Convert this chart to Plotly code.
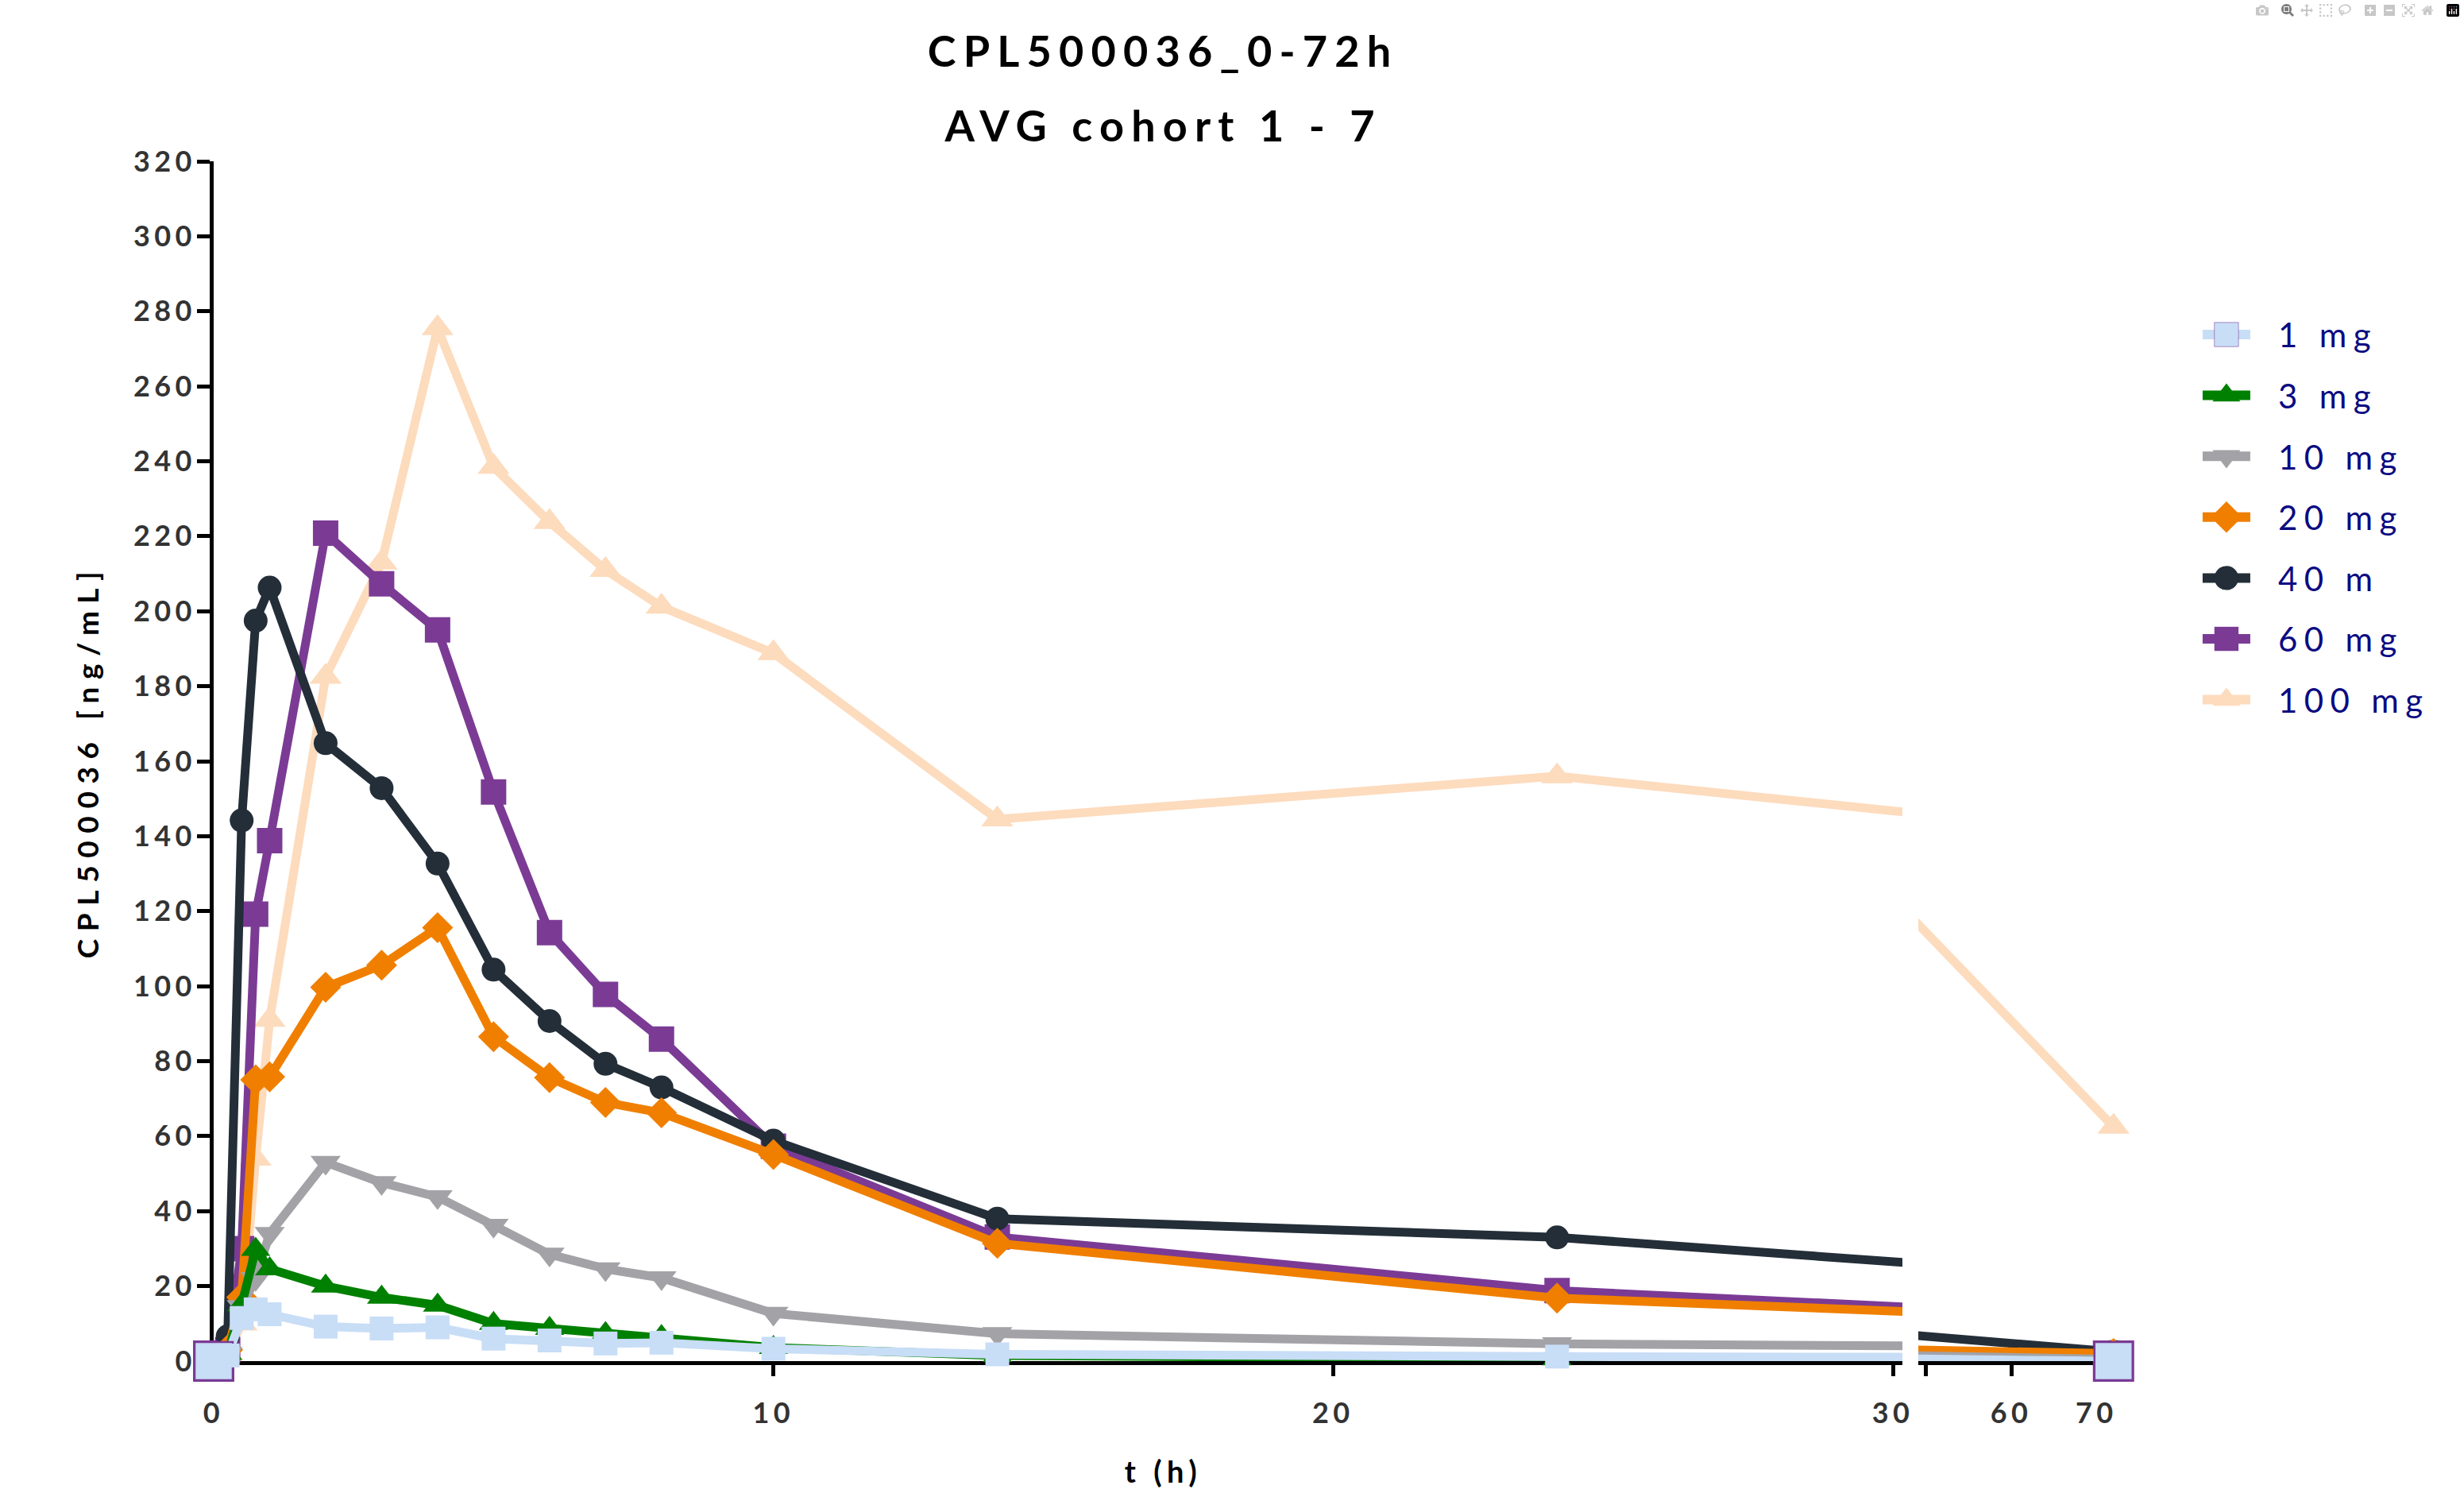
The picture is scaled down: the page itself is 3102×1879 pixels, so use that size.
import plotly.graph_objects as go

# ---------------- data ----------------
times = [0, 0.25, 0.5, 0.75, 1, 2, 3, 4, 5, 6, 7, 8, 10, 14, 24, 48, 72]

conc_1mg = [0, 1.5, 11.5, 13.8, 12.5, 9.2, 8.7, 9.0, 6.0, 5.5, 4.7, 4.9, 3.3, 1.8, 1.2, 0.6, 0]
conc_3mg = [0, 2.0, 15.0, 29.8, 24.6, 20.0, 17.0, 14.9, 10.0, 8.7, 7.3, 6.5, 3.6, 1.5, 0.6, 0.3, 0]
conc_10mg = [0, 2.0, 14.5, 22.0, 34.0, 53.0, 47.6, 43.8, 36.2, 28.5, 24.6, 22.2, 12.7, 7.3, 4.6, 1.5, 0.5]
conc_20mg = [0, 3.0, 17.0, 75.0, 75.8, 99.7, 105.6, 115.6, 86.5, 75.6, 69.0, 66.2, 55.1, 31.4, 16.8, 3.0, 2.0]
conc_40mg = [0, 6.6, 144.2, 197.5, 206.3, 164.8, 152.8, 132.7, 104.4, 90.7, 79.3, 73.0, 58.8, 38.0, 33.0, 7.0, 2.5]
conc_60mg = [0, 3.0, 30.0, 119.2, 138.8, 220.8, 207.3, 195.0, 151.8, 114.3, 97.8, 85.9, 57.3, 33.1, 18.8, 2.0, 0]
conc_100mg = [0, 2.0, 10.0, 54.0, 91.0, 182.5, 213.0, 275.5, 238.5, 223.8, 211.0, 201.2, 188.8, 144.5, 156.0, 119.0, 62.5]

series_names = ["1 mg", "3 mg", "10 mg", "20 mg", "40 m", "60 mg", "100 mg"]
series_values = [conc_1mg, conc_3mg, conc_10mg, conc_20mg, conc_40mg, conc_60mg, conc_100mg]

x_ticks_main = [0, 10, 20, 30]
x_ticks_late = [50, 60, 70]
x_ticktext_late = ["", "60", "70"]

title_line1 = "CPL500036_0-72h"
title_line2 = "AVG cohort 1 - 7"
y_title = "CPL500036 [ng/mL]"
x_title = "t (h)"

# ---------------- styles ----------------
styles = {
    "1 mg":   dict(color="#c8ddf6", symbol="square", size=30),
    "3 mg":   dict(color="#008000", symbol="triangle-up", size=32),
    "10 mg":  dict(color="#a2a2a7", symbol="triangle-down", size=33),
    "20 mg":  dict(color="#f07f00", symbol="diamond", size=30),
    "40 m":   dict(color="#232e38", symbol="circle", size=30),
    "60 mg":  dict(color="#7b3b95", symbol="square", size=32),
    "100 mg": dict(color="#fddbbd", symbol="triangle-up", size=35),
}
edge_times = (0, 72)
edge_size = {"1 mg": 48, "60 mg": 52}

FONT = "Lato"
TICK_FONT = dict(family=FONT, size=36, color="#333333", weight="bold")

data = dict(zip(series_names, series_values))
rank = {n: i + 1 for i, n in enumerate(series_names)}
draw_order = list(reversed(series_names))  # 100 mg at the bottom, 1 mg on top

fig = go.Figure()
for xa in ["x", "x2"]:
    for name in draw_order:
        st = styles[name]
        sizes = [edge_size.get(name, st["size"]) if t in edge_times else st["size"] for t in times]
        if name == "1 mg":
            mline = dict(width=[2.5 if t in edge_times else 0 for t in times], color=styles["60 mg"]["color"])
        else:
            mline = dict(width=0, color=st["color"])
        fig.add_trace(go.Scatter(
            x=times, y=data[name], name=name, legendgroup=name, legendrank=rank[name],
            showlegend=(xa == "x"), xaxis=xa, yaxis="y",
            mode="lines+markers", cliponaxis=False,
            line=dict(color=st["color"], width=11),
            marker=dict(symbol=st["symbol"], size=sizes, color=st["color"], opacity=1, line=mline),
        ))

axis_common = dict(
    showline=True, linecolor="black", linewidth=5,
    ticks="outside", tickwidth=5, tickcolor="black",
    showgrid=False, zeroline=False, tickfont=TICK_FONT,
    layer="below traces",
)

fig.update_layout(
    width=3102, height=1879,
    margin=dict(l=269, r=438, t=203, b=166),
    paper_bgcolor="white", plot_bgcolor="white",
    title=dict(text=title_line1, x=0.472, xref="container", xanchor="center",
               y=1 - 65 / 1879, yref="container", yanchor="middle",
               font=dict(family=FONT, size=54, color="black", weight="bold")),
    xaxis=dict(domain=[0, 0.8877], range=[0, 30.17], tickmode="array",
               tickvals=x_ticks_main, ticklen=14, anchor="y",
               ticklabelstandoff=16, **axis_common),
    xaxis2=dict(domain=[0.8960, 1], range=[49.07, 72.3], tickmode="array",
                tickvals=x_ticks_late, ticktext=x_ticktext_late, ticklen=14,
                anchor="y", ticklabelstandoff=16, **axis_common),
    yaxis=dict(domain=[0, 1], range=[0, 320], tickmode="linear", tick0=0, dtick=20,
               ticklen=16, anchor="x", ticklabelstandoff=-6,
               title=dict(text=y_title, standoff=50,
                          font=dict(family=FONT, size=37, color="black", weight="bold")),
               **axis_common),
    legend=dict(x=1.0434, y=0.878, xanchor="left", yanchor="top",
                traceorder="grouped", tracegroupgap=19,
                font=dict(family=FONT, size=42, color="#0b0b82"),
                bgcolor="rgba(0,0,0,0)", itemwidth=30),
    annotations=[
        dict(text=title_line2, x=0.499, y=1 + 45 / 1510, xref="paper", yref="paper",
             xanchor="center", yanchor="middle", showarrow=False,
             font=dict(family=FONT, size=54, color="black", weight="bold")),
        dict(text=x_title, x=0.499, y=-138 / 1510, xref="paper", yref="paper",
             xanchor="center", yanchor="middle", showarrow=False,
             font=dict(family=FONT, size=38, color="black", weight="bold")),
    ],
    showlegend=True,
)

post = """
document.body.style.margin = '0';
document.body.style.overflow = 'hidden';
var gd = document.getElementById('{plot_id}');
function restyleText(){
  gd.querySelectorAll('.xtick text, .x2tick text, .ytick text').forEach(function(t){ t.style.letterSpacing = '0.15em'; });
  gd.querySelectorAll('.legendtext').forEach(function(t){ t.style.letterSpacing = '0.2em'; t.setAttribute('x', '100'); });
  gd.querySelectorAll('.ytitle').forEach(function(t){ t.style.letterSpacing = '0.26em'; });
  gd.querySelectorAll('.gtitle, .annotation-text').forEach(function(t){ t.style.letterSpacing = '0.17em'; });
  gd.querySelectorAll('.legend .scrollbox, .legend').forEach(function(e){ e.removeAttribute('clip-path'); });
  gd.querySelectorAll('.legend .legendlines path').forEach(function(p){ p.setAttribute('transform', 'translate(-5,0) scale(2,1.2)'); });
  gd.querySelectorAll('.legend .legendsymbols path').forEach(function(p){ p.setAttribute('transform', 'translate(35,0) scale(1.9)'); });
}
restyleText();
gd.on('plotly_afterplot', restyleText);
"""

fig.write_html("out.html", post_script=post)
